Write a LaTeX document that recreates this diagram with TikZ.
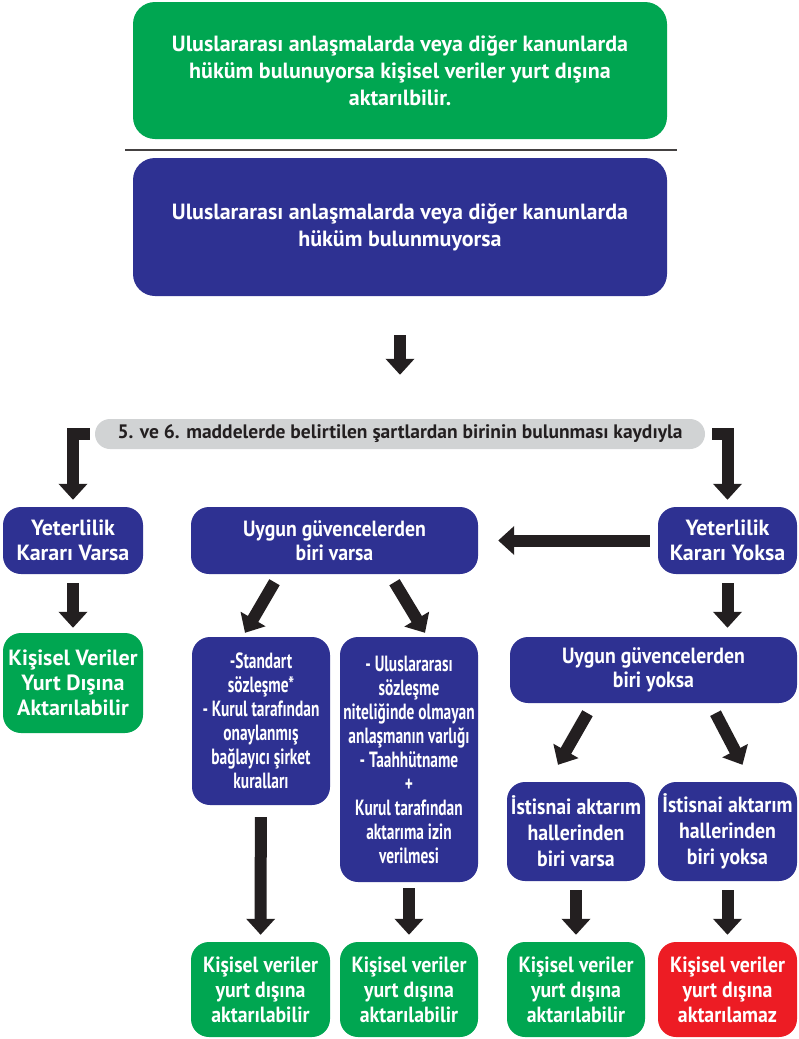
\documentclass[tikz,border=0pt]{standalone}
\usepackage{fontspec}
\setmainfont{PT Sans}
\newfontfamily\semifont[FakeStretch=0.9]{PT Sans}
\newfontfamily\condfont[FakeStretch=0.7]{PT Sans}
\usetikzlibrary{arrows.meta, positioning, calc}

\definecolor{kvkgreen}{HTML}{00A651}
\definecolor{kvkblue}{HTML}{2E3192}
\definecolor{kvkred}{HTML}{ED1C24}
\definecolor{kvkdark}{HTML}{231F20}
\definecolor{kvkgray}{HTML}{D1D3D4}

\begin{document}
\begin{tikzpicture}[
    x=1pt, y=-1pt,
    box/.style={rectangle, rounded corners=18pt, text=white, align=center, inner sep=0pt, font=\bfseries\fontsize{22}{25}\selectfont},
    bigbox/.style={box, minimum width=534pt, rounded corners=22pt, font=\bfseries\fontsize{22}{27}\selectfont},
    smallbox/.style={box, minimum width=138pt, font=\condfont\bfseries\fontsize{22}{24}\selectfont},
    semibox/.style={box, minimum width=138pt, font=\semifont\bfseries\fontsize{22}{25}\selectfont},
    arrow/.style={-{Triangle[width=28pt,length=16pt]}, line width=12pt, draw=kvkdark}
]
\useasboundingbox (0,0) rectangle (798,1039);

% Nodes
\node[bigbox, fill=kvkgreen, minimum height=137pt] (law) at (400,70.5) {Uluslararası anlaşmalarda veya diğer kanunlarda\\hüküm bulunuyorsa kişisel veriler yurt dışına\\aktarılbilir.};
\node[bigbox, fill=kvkblue, minimum height=138pt] (nolaw) at (400,227) {Uluslararası anlaşmalarda veya diğer kanunlarda\\hüküm bulunmuyorsa};
\node[rectangle, rounded corners=15pt, fill=kvkgray, minimum width=610pt, minimum height=30pt, inner sep=0pt, text=kvkdark, font=\bfseries\fontsize{19.5}{22}\selectfont] (pill) at (400,434) {5. ve 6. maddelerde belirtilen şartlardan birinin bulunması kaydıyla};

\node[box, fill=kvkblue, minimum width=140pt, minimum height=67pt] (varsa) at (73,540.5) {Yeterlilik\\Kararı Varsa};
\node[box, fill=kvkgreen, minimum width=140pt, minimum height=100pt] (ok1) at (73,683) {Kişisel Veriler\\Yurt Dışına\\Aktarılabilir};
\node[box, fill=kvkblue, minimum width=287pt, minimum height=67pt, font=\semifont\bfseries\fontsize{22}{24}\selectfont] (guvvar) at (334.5,540.5) {Uygun güvencelerden\\biri varsa};
\node[box, fill=kvkblue, minimum width=139pt, minimum height=67pt] (yoksa) at (727.5,540.5) {Yeterlilik\\Kararı Yoksa};
\node[box, fill=kvkblue, minimum width=287pt, minimum height=66pt, font=\semifont\bfseries\fontsize{22}{24}\selectfont] (guvyok) at (653.5,670) {Uygun güvencelerden\\biri yoksa};

\node[smallbox, fill=kvkblue, minimum height=168pt] (std) at (261,721) {-Standart\\sözleşme*\\- Kurul tarafından\\onaylanmış\\bağlayıcı şirket\\kuralları};
\node[smallbox, fill=kvkblue, minimum height=245pt] (ulus) at (409,759.5) {- Uluslararası\\sözleşme\\niteliğinde olmayan\\anlaşmanın varlığı\\- Taahhütname\\+\\Kurul tarafından\\aktarıma izin\\verilmesi};
\node[semibox, fill=kvkblue, minimum height=99pt, font=\semifont\bfseries\fontsize{22}{26}\selectfont] (ist1) at (576,831.5) {İstisnai aktarım\\hallerinden\\biri varsa};
\node[semibox, fill=kvkblue, minimum width=139pt, minimum height=99pt, font=\semifont\bfseries\fontsize{22}{26}\selectfont] (ist2) at (727.5,831.5) {İstisnai aktarım\\hallerinden\\biri yoksa};

\node[semibox, fill=kvkgreen, minimum width=139pt, minimum height=95pt] (ok2) at (260.5,989.5) {Kişisel veriler\\yurt dışına\\aktarılabilir};
\node[semibox, fill=kvkgreen, minimum height=95pt] (ok3) at (409,989.5) {Kişisel veriler\\yurt dışına\\aktarılabilir};
\node[semibox, fill=kvkgreen, minimum height=95pt] (ok4) at (576,989.5) {Kişisel veriler\\yurt dışına\\aktarılabilir};
\node[semibox, fill=kvkred, minimum width=139pt, minimum height=95pt] (no5) at (727.5,989.5) {Kişisel veriler\\yurt dışına\\aktarılamaz};

% Separator
\draw[line width=1.5pt, draw=kvkdark!85] (125,150) -- (677,150);

% Arrows
\draw[arrow, shorten <=39pt, shorten >=44pt] (nolaw) -- (pill);
\draw[arrow, line join=miter, shorten >=7pt] ([xshift=-5pt]pill.west) -| (varsa.north);
\draw[arrow, line join=miter, shorten >=7pt] ([xshift=7pt]pill.east) -| (yoksa.north);
\draw[arrow, shorten <=9pt, shorten >=5pt] (varsa) -- (ok1);
\draw[arrow, shorten <=8pt, shorten >=20pt] (yoksa) -- (guvvar);
\draw[arrow, shorten <=9pt, shorten >=9pt] (yoksa) -- (yoksa |- guvyok.north);
\draw[arrow] ($(guvvar.south)+(-60,8)$) -- ($(std.north)+(-16,-4)$);
\draw[arrow] ($(guvvar.south)+(60,8)$) -- ($(ulus.north)+(16,-4)$);
\draw[arrow] ($(guvyok.south)+(-66,10)$) -- ($(ist1.north)+(-18,-17)$);
\draw[arrow] ($(guvyok.south)+(62,10)$) -- ($(ist2.north)+(15,-17)$);
\draw[arrow, shorten <=12pt, shorten >=7pt] (std) -- (ok2);
\draw[arrow, shorten <=6pt, shorten >=7pt] (ulus) -- (ok3);
\draw[arrow, shorten <=9pt, shorten >=7pt] (ist1) -- (ok4);
\draw[arrow, shorten <=9pt, shorten >=7pt] (ist2) -- (no5);

\end{tikzpicture}
\end{document}
